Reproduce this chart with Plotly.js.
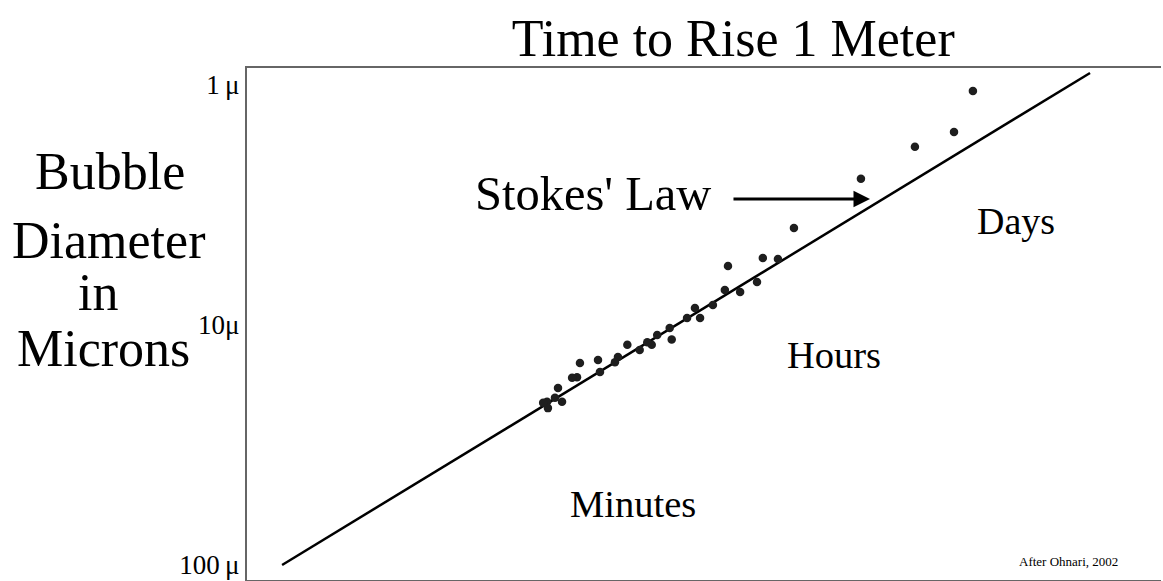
<!DOCTYPE html>
<html>
<head>
<meta charset="utf-8">
<script src="https://cdn.plot.ly/plotly-3.0.1.min.js"></script>
<style>html,body{margin:0;padding:0;background:#fff;}#chart{width:1163px;height:581px;}</style>
</head>
<body>
<div id="chart"></div>
<script>
// Measured bubbles: time to rise 1 m (seconds) and bubble diameter (microns)
const dataTime = [5.85e5, 4.69e5, 2.97e5, 1.58e5, 7.22e4, 5.99e4, 5.02e4, 3.34e4, 4.69e4, 3.85e4,
                  3.22e4, 2.80e4, 2.27e4, 2.07e4, 1.69e4, 1.73e4, 1.46e4, 1.37e4, 1.30e4, 1.03e4,
                  9.23e3, 8.91e3, 7.31e3, 5.92e3, 5.72e3, 5.40e3, 4.58e3, 4.03e3, 4.07e3, 4.80e3, 3.85e3,
                  4.42e3, 7.48e3, 1.19e4, 2.41e4];
const dataDiam = [1.06, 1.57, 1.81, 2.46, 3.94, 5.31, 5.26, 5.68, 6.62, 7.29,
                  7.15, 8.25, 8.49, 9.35, 10.3, 11.5, 11.0, 12.1, 11.8, 12.1,
                  13.6, 14.3, 14.0, 14.4, 16.5, 16.6, 18.3, 20.9, 22.2, 20.9, 21.1,
                  20.1, 15.7, 12.7, 9.35];
// Stokes' law line end points
const stokesTime = [182, 2.30e6];
const stokesDiam = [100, 0.891];
// Axis tick labels
const tickVals = [1, 10, 100];
const tickLabels = ["1\u2009\u03bc", "10\u03bc", "100\u2009\u03bc"];
// Region labels
const regionLabels = ["Minutes", "Hours", "Days"];

const serif = "Liberation Serif, Times New Roman, serif";

const traces = [
  {
    x: stokesTime, y: stokesDiam, type: "scatter", mode: "lines",
    line: {color: "#000", width: 2.5}, hoverinfo: "skip", showlegend: false
  },
  {
    x: dataTime, y: dataDiam, type: "scatter", mode: "markers",
    marker: {color: "#1e1e1e", size: 8.5, symbol: "circle"}, showlegend: false
  }
];

function ann(text, x, y, size, extra) {
  return Object.assign({text: text, x: x, y: y, xref: "paper", yref: "paper",
    showarrow: false, xanchor: "center", yanchor: "middle",
    font: {family: serif, size: size, color: "#000"}}, extra || {});
}

const layout = {
  width: 1163, height: 581,
  margin: {l: 247, r: 2, t: 68, b: 1, pad: 0},
  paper_bgcolor: "#fff", plot_bgcolor: "#fff",
  title: {text: "Time to Rise 1 Meter", x: 0.532, xref: "paper", xanchor: "center",
          y: 0.935, yref: "container", yanchor: "middle",
          font: {family: serif, size: 52, color: "#000"}},
  xaxis: {type: "log", range: [2.082, 6.722], showticklabels: false, ticks: "",
          showgrid: false, zeroline: false, showline: true, mirror: true,
          linecolor: "#666", linewidth: 2},
  yaxis: {type: "log", range: [2.0625, -0.0708], tickmode: "array",
          tickvals: tickVals, ticktext: tickLabels, ticks: "", ticklen: 0,
          tickfont: {family: serif, size: 27, color: "#000"},
          showgrid: false, zeroline: false, showline: true, mirror: false,
          linecolor: "#666", linewidth: 2},
  showlegend: false,
  annotations: [
    ann("Bubble", -0.1499, 0.797, 52),
    ann("Diameter", -0.152, 0.664, 52),
    ann("in", -0.163, 0.5625, 52),
    ann("Microns", -0.1575, 0.453, 52),
    ann("Stokes' Law", 0.3786, 0.754, 48.5),
    ann(regionLabels[2], 0.8414, 0.701, 38),
    ann(regionLabels[1], 0.6422, 0.4395, 38.5),
    ann(regionLabels[0], 0.4223, 0.1484, 38.5),
    ann("After Ohnari, 2002", 0.8993, 0.0352, 13),
    {text: "", x: 0.6816, y: 0.744, xref: "paper", yref: "paper",
     showarrow: true, ax: -138, ay: 0, axref: "pixel", ayref: "pixel",
     arrowhead: 2, arrowsize: 1.1, arrowwidth: 3, arrowcolor: "#000"}
  ]
};

Plotly.newPlot("chart", traces, layout, {displayModeBar: false, staticPlot: true});
</script>
</body>
</html>
